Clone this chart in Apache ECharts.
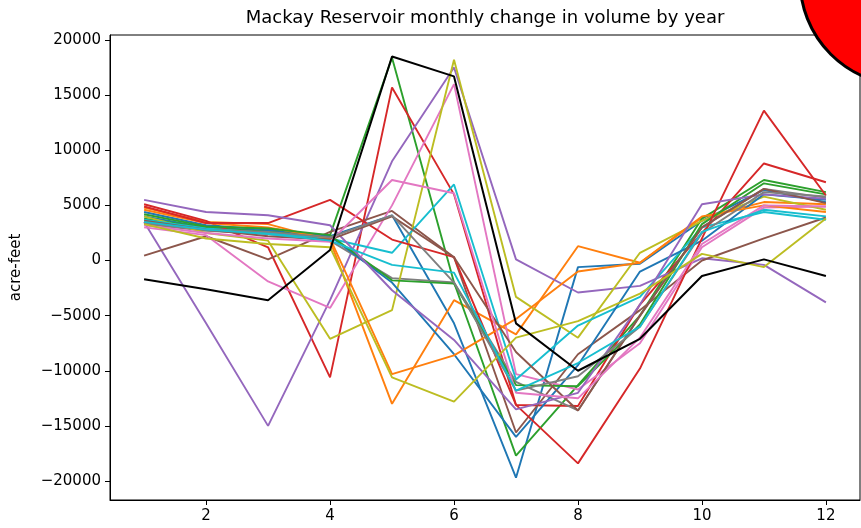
<!DOCTYPE html>
<html>
<head>
<meta charset="utf-8">
<script src="https://cdn.jsdelivr.net/npm/echarts@6/dist/echarts.min.js"></script>
<style>
  html, body { margin: 0; padding: 0; background: #fff; }
  #chart { width: 861px; height: 528px; }
</style>
</head>
<body>
<div id="chart"></div>
<script>
// Months of the water year shown on the x axis
const months = [1, 2, 3, 4, 5, 6, 7, 8, 9, 10, 11, 12];
const xTicks = [2, 4, 6, 8, 10, 12];
const yTicks = [-20000, -15000, -10000, -5000, 0, 5000, 10000, 15000, 20000];

// Monthly change in reservoir volume (acre-feet), one array per year
const line01 = [4000, 3000, 2700, 2200, 4100, -5700, -19700, -600, -300, 3600, 6400, 5300];
const line02 = [4800, 3500, 3300, 1800, -13000, -3600, -6700, 1300, -200, 3900, 5300, 5100];
const line03 = [3800, 3000, 2600, 2300, 18400, -2000, -17700, -11300, -5000, 3800, 7300, 6200];
const line04 = [5100, 3600, 1200, -10600, 15700, 6000, -13100, -13200, -4000, 2500, 8800, 7100];
const line05 = [3500, -5700, -15000, -3600, 9000, 17500, 100, -2900, -2300, 200, -400, -3800];
const line06 = [450, 2200, 100, 2600, 4500, 300, -15600, -8500, -4500, 0, 2000, 3900];
const line07 = [3000, 2300, -1900, -4300, 5000, 16000, -10300, -11700, -7500, 1200, 4800, 4900];
const line08 = [3300, 2700, 2400, 1800, -1600, -2000, -11000, -13600, -5000, 3000, 6500, 5700];
const line09 = [4000, 2500, 1800, -7100, -4500, 18200, -3300, -7000, 700, 3600, 5800, 4600];
const line10 = [3700, 2900, 2500, 2000, 700, 6900, -10800, -5900, -3300, 3000, 4400, 3700];
const line11 = [4400, 3200, 2800, 2200, -2000, -8500, -16000, -9500, -1000, 1800, 6000, 5500];
const line12 = [4600, 3400, 3000, 2000, -10300, -8600, -5300, -1000, -200, 4000, 5000, 4400];
const line13 = [4200, 3100, 2900, 2300, -1800, -2100, -11300, -11400, -5800, 3300, 7000, 6000];
const line14 = [4900, 3400, 3400, 5500, 1900, 300, -13100, -18400, -9800, 2000, 13600, 5900];
const line15 = [5500, 4400, 4100, 3200, -2700, -7200, -13500, -12000, -4000, 5100, 6000, 5600];
const line16 = [3600, 2800, 2200, 1900, 4000, 300, -8300, -13600, -5000, 3000, 6500, 5200];
const line17 = [3200, 2500, 2000, 1700, 7300, 6100, -12000, -12500, -7000, 1500, 5000, 4900];
const line18 = [3400, 2800, 2600, 2100, 4100, -2000, -11800, -10500, -6000, 2500, 6200, 5800];
const line19 = [3300, 2000, 1500, 1200, -10600, -12800, -7000, -5500, -3000, 600, -600, 3800];
const line20 = [3500, 2800, 2400, 1800, -400, -1100, -11800, -9300, -6000, 2600, 4600, 4000];
// Current year, drawn in black on top
const currentYear = [-1700, -2600, -3600, 950, 18500, 16700, -5700, -10000, -7100, -1400, 100, -1400];

const years = [line01, line02, line03, line04, line05, line06, line07, line08, line09, line10,
               line11, line12, line13, line14, line15, line16, line17, line18, line19, line20];

const palette = ['#1f77b4', '#ff7f0e', '#2ca02c', '#d62728', '#9467bd',
                 '#8c564b', '#e377c2', '#7f7f7f', '#bcbd22', '#17becf'];

const FONT = 'DejaVu Sans';

function toPoints(values) {
  return values.map((v, i) => [months[i], v]);
}

const series = years.map((vals, i) => ({
  type: 'line',
  data: toPoints(vals),
  symbol: 'none',
  silent: true,
  lineStyle: { color: palette[i % palette.length], width: 1.9 },
  animation: false
}));
series.push({
  type: 'line',
  data: toPoints(currentYear),
  symbol: 'none',
  silent: true,
  lineStyle: { color: '#000000', width: 2 },
  animation: false
});

const chart = echarts.init(document.getElementById('chart'), null, { renderer: 'canvas' });
chart.setOption({
  animation: false,
  backgroundColor: '#ffffff',
  grid: {
    left: 110, top: 35, right: 1, bottom: 28,
    show: true, borderColor: '#000000', borderWidth: 1, backgroundColor: 'transparent'
  },
  xAxis: {
    type: 'value',
    min: 0.45, max: 12.55,
    splitLine: { show: false },
    axisLine: { show: true, onZero: false, lineStyle: { color: '#000' } },
    axisTick: { show: true, length: 5, lineStyle: { color: '#000' }, customValues: xTicks },
    axisLabel: {
      color: '#000', fontFamily: FONT, fontSize: 15, margin: 9,
      customValues: xTicks
    }
  },
  yAxis: {
    type: 'value',
    min: -21723, max: 20454,
    name: 'acre-feet',
    nameLocation: 'middle',
    nameGap: 86,
    nameTextStyle: { color: '#000', fontFamily: FONT, fontSize: 15 },
    splitLine: { show: false },
    axisLine: { show: true, onZero: false, lineStyle: { color: '#000' } },
    axisTick: { show: true, length: 5, lineStyle: { color: '#000' }, customValues: yTicks },
    axisLabel: {
      color: '#000', fontFamily: FONT, fontSize: 15, margin: 9,
      customValues: yTicks,
      formatter: v => String(v).replace('-', '\u2212')
    }
  },
  series: series,
  graphic: [
    {
      type: 'text',
      x: 485, y: 18,
      style: {
        text: 'Mackay Reservoir monthly change in volume by year',
        fontFamily: FONT, fontSize: 18, fill: '#000',
        align: 'center', verticalAlign: 'middle'
      },
      z: 10
    },
    {
      type: 'circle',
      shape: { cx: 905, cy: -20, r: 105 },
      style: { fill: '#ff0000', stroke: '#000000', lineWidth: 3 },
      z: 20
    }
  ]
});
</script>
</body>
</html>
